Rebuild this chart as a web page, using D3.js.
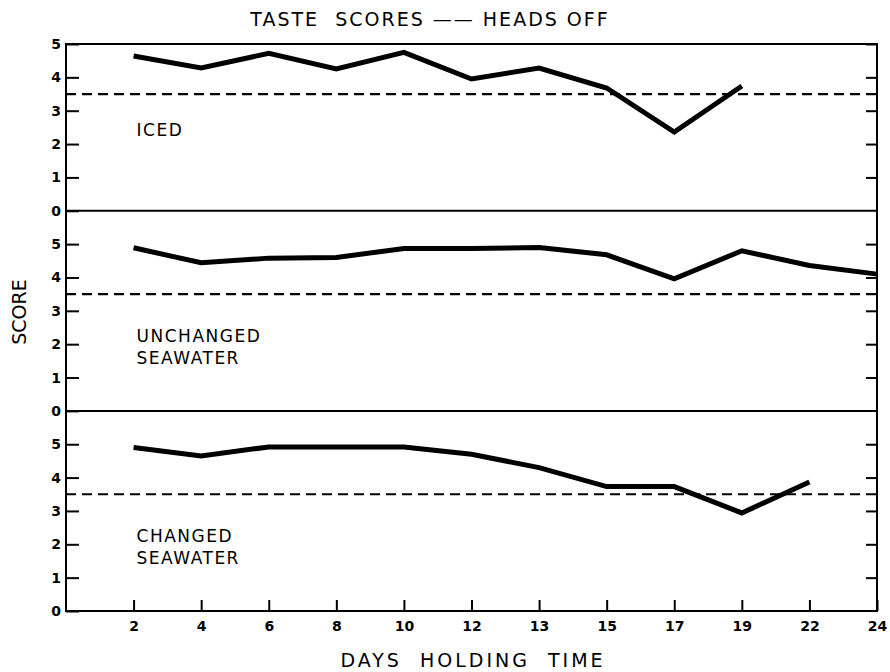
<!DOCTYPE html>
<html>
<head>
<meta charset="utf-8">
<script src="https://cdn.jsdelivr.net/npm/d3@7"></script>
<style>
  body { margin: 0; background: #fff; }
  text { font-family: "DejaVu Sans", sans-serif; fill: #000; }
  .axis path { display: none; }
  .axis line { stroke: #000; stroke-width: 2px; }
  .axis text { font-size: 13px; }
</style>
</head>
<body>
<div id="chart"></div>
<script>
// data
var days = [2, 4, 6, 8, 10, 12, 13, 15, 17, 19, 22, 24];
var iced = [4.64, 4.28, 4.72, 4.25, 4.75, 3.95, 4.28, 3.68, 2.36, 3.74];
var unchanged = [4.89, 4.44, 4.58, 4.6, 4.87, 4.87, 4.9, 4.68, 3.96, 4.8, 4.36, 4.1];
var changed = [4.9, 4.65, 4.92, 4.92, 4.92, 4.7, 4.3, 3.73, 3.73, 2.94, 3.87];
var limit = 3.5;
var panelLabels = [["ICED"], ["UNCHANGED", "SEAWATER"], ["CHANGED", "SEAWATER"]];
var panelMax = [5, 6, 6];
var yTicks = [0, 1, 2, 3, 4, 5];

// set the dimensions and margins of the graph
var margin = {top: 44, right: 13, bottom: 61, left: 66},
    width = 890 - margin.left - margin.right,
    height = 672 - margin.top - margin.bottom;

var unit = height / d3.sum(panelMax);

var svg = d3.select("#chart").append("svg")
    .attr("width", 890)
    .attr("height", 672)
    .append("g")
    .attr("transform", "translate(" + margin.left + "," + margin.top + ")");

// x is index based: ticks are evenly spaced whatever the day
var x = d3.scaleLinear().domain([0, days.length]).range([0, width]);

var series = [iced, unchanged, changed];
var offset = 0;

series.forEach(function(vals, i) {
    var h = panelMax[i] * unit;
    var y = d3.scaleLinear().domain([0, panelMax[i]]).range([offset + h, offset]);

    // left axis, ticks pointing inside
    svg.append("g")
        .attr("class", "axis")
        .call(d3.axisLeft(y).tickValues(yTicks).tickSize(-13).tickPadding(5).tickFormat(d3.format("d")))
        .selectAll("text").style("font-size", "14px").style("font-weight", "bold");

    // right axis ticks
    svg.append("g")
        .attr("class", "axis")
        .attr("transform", "translate(" + width + ",0)")
        .call(d3.axisRight(y).tickValues(yTicks.slice(1)).tickSize(-11).tickFormat(""));

    // 3.5 acceptance line
    svg.append("line")
        .attr("x1", 0).attr("x2", width)
        .attr("y1", y(limit)).attr("y2", y(limit))
        .attr("stroke", "#000")
        .attr("stroke-width", 2.2)
        .attr("stroke-dasharray", "10,6");

    var line = d3.line()
        .x(function(d, j) { return x(j + 1); })
        .y(function(d) { return y(d); });

    svg.append("path")
        .datum(vals)
        .attr("d", line)
        .attr("fill", "none")
        .attr("stroke", "#000")
        .attr("stroke-width", 5)
        .attr("stroke-linejoin", "miter");

    // panel label
    var lab = svg.append("text")
        .attr("y", y(i == 0 ? 2.25 : 2.08))
        .style("font-size", "17px")
        .style("letter-spacing", "1.5px");
    panelLabels[i].forEach(function(t, k) {
        lab.append("tspan")
            .attr("x", x(1) + 3)
            .attr("dy", k == 0 ? 0 : "1.3em")
            .text(t);
    });

    // baseline / divider
    svg.append("line")
        .attr("x1", 0).attr("x2", width)
        .attr("y1", offset + h).attr("y2", offset + h)
        .attr("stroke", "#000").attr("stroke-width", 2);

    offset += h;
});

// frame
svg.append("rect")
    .attr("width", width).attr("height", height)
    .attr("fill", "none").attr("stroke", "#000").attr("stroke-width", 2);

// bottom axis
svg.append("g")
    .attr("class", "axis")
    .attr("transform", "translate(0," + height + ")")
    .call(d3.axisBottom(x)
        .tickValues(d3.range(1, days.length + 1))
        .tickSize(-11)
        .tickPadding(10)
        .tickFormat(function(d) { return days[d - 1]; }))
    .selectAll("text").style("font-size", "14px").style("font-weight", "bold");

// titles
svg.append("text")
    .attr("x", 364)
    .attr("y", -18)
    .attr("text-anchor", "middle")
    .style("font-size", "19px")
    .style("letter-spacing", "2px")
    .attr("xml:space", "preserve")
    .text("TASTE  SCORES \u2014\u2014 HEADS OFF");

svg.append("text")
    .attr("x", 407)
    .attr("y", height + 56)
    .attr("text-anchor", "middle")
    .style("font-size", "19px")
    .style("letter-spacing", "3px")
    .attr("xml:space", "preserve")
    .text("DAYS  HOLDING  TIME");

svg.append("text")
    .attr("transform", "translate(-40," + (312 - margin.top) + ")rotate(-90)")
    .attr("text-anchor", "middle")
    .style("font-size", "19px")
    .text("SCORE");
</script>
</body>
</html>
